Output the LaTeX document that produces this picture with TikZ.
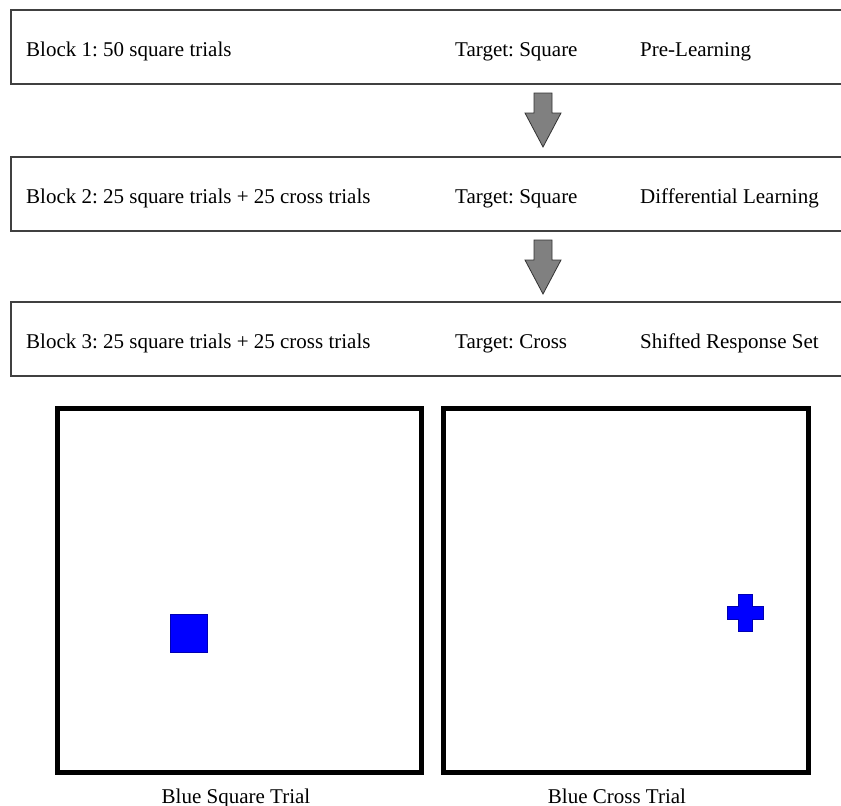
\documentclass[tikz,border=0pt]{standalone}
\usepackage{fontspec}
\setmainfont{Liberation Serif}
\frenchspacing
\begin{document}
\begin{tikzpicture}[x=1pt,y=-1pt,
        txt/.style={inner sep=0pt, font=\fontsize{21}{24}\selectfont},
        row/.style={draw=black!75, line width=1.3pt},
        dn/.style={fill=black!50, draw=black!80, line width=0.8pt},
        screen/.style={line width=5pt},
        stim/.style={fill=blue, draw=blue!70!black, line width=0.6pt}]
    \useasboundingbox (0,0) rectangle (841,806);
    % the three blocks
    \foreach \n/\y/\blk/\tgt/\ph in {
            1/47/{Block 1: 50 square trials}/{Target: Square}/{Pre-Learning},
            2/194/{Block 2: 25 square trials + 25 cross trials}/{Target: Square}/{Differential Learning},
            3/339/{Block 3: 25 square trials + 25 cross trials}/{Target: Cross}/{Shifted Response Set}} {
        \draw[row] (841,\y-37) -- (11,\y-37) -- (11,\y+37) -- (841,\y+37);
        \node[txt, anchor=base west] (blk\n) at (26,\y+9) {\blk};
        \node[txt, anchor=base west] (tgt\n) at (455,\y+9) {\tgt};
        \node[txt, anchor=base west] (ph\n) at (640,\y+9) {\ph};
    }
    \foreach \y in {93,240}
        \draw[dn] (534,\y) -- (552,\y) -- (552,\y+20) -- (561,\y+20)
            -- (543,\y+54) -- (525,\y+20) -- (534,\y+20) -- cycle;
    % the two screens
    \draw[screen] (57,408.5) rectangle (421,772.5);
    \draw[screen] (443.5,408.5) rectangle (808,772.5);
    \draw[stim] (170,614) rectangle (207,652);
    \draw[stim] (738,594) -- (752,594) -- (752,606) -- (763,606) -- (763,619)
        -- (752,619) -- (752,631) -- (738,631) -- (738,619) -- (727,619)
        -- (727,606) -- (738,606) -- cycle;
    \node[txt, anchor=base] (sq) at (236,803) {Blue Square Trial};
    \node[txt, anchor=base] (cr) at (617,803) {Blue Cross Trial};
\end{tikzpicture}
\end{document}
